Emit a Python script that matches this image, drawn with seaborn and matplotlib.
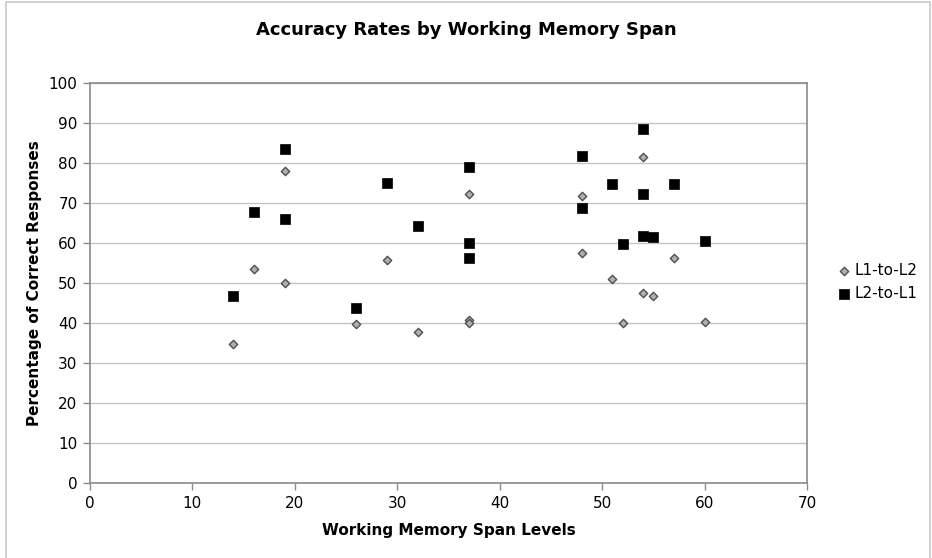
"""
Accuracy rates by working memory span: scatter of two translation directions.
"""

import matplotlib
matplotlib.use("Agg")
import pandas as pd
import matplotlib.pyplot as plt
from matplotlib.patches import Rectangle
import seaborn as sns

# --- DATA ---
L1_SPAN = [14, 16, 19, 19, 26, 29, 32, 37, 37, 37, 48, 48, 51, 52, 54, 54, 55, 57, 60]
L1_ACC = [34.7, 53.5, 77.9, 50.0, 39.8, 55.7, 37.7, 72.2, 40.7, 40.0,
          71.7, 57.4, 50.9, 39.9, 81.6, 47.5, 46.8, 56.2, 40.2]

L2_SPAN = [14, 16, 19, 19, 26, 29, 32, 37, 37, 37, 48, 48, 51, 52, 54, 54, 54, 55, 57, 60]
L2_ACC = [46.8, 67.7, 83.5, 66.1, 43.7, 75.1, 64.3, 79.1, 60.0, 56.3,
          81.7, 68.8, 74.7, 59.7, 88.5, 72.2, 61.8, 61.5, 74.7, 60.5]

SERIES = ["L1-to-L2", "L2-to-L1"]
TITLE = "Accuracy Rates by Working Memory Span"
XLABEL = "Working Memory Span Levels"
YLABEL = "Percentage of Correct Responses"
OUT_PNG = "out.png"


def main():
    sns.set_theme(style="white")
    plt.rcParams["font.family"] = ["DejaVu Sans"]
    plt.rcParams["text.color"] = "black"
    plt.rcParams["axes.labelcolor"] = "black"

    df1 = pd.DataFrame({"span": L1_SPAN, "acc": L1_ACC})
    df2 = pd.DataFrame({"span": L2_SPAN, "acc": L2_ACC})

    fig = plt.figure(figsize=(9.32, 5.58), dpi=100)
    W, H = 932, 558
    # plot area in pixels: left 90, right 807, top 83, bottom 483
    ax = fig.add_axes([90 / W, 1 - 483 / H, (807 - 90) / W, (483 - 83) / H])

    # outer chart border
    fig.patches.append(Rectangle((6 / W, -0.02), (930 - 6) / W, 1.0 - 1.5 / H + 0.02,
                                 transform=fig.transFigure, fill=False,
                                 edgecolor="#c8c8c8", linewidth=1.2))

    sns.scatterplot(data=df1, x="span", y="acc", marker="D", s=18,
                    color="#b0b0b0", edgecolor="#505050", linewidth=1.0,
                    label=SERIES[0], ax=ax, zorder=3)
    sns.scatterplot(data=df2, x="span", y="acc", marker="s", s=48,
                    color="black", edgecolor="black", linewidth=0.5,
                    label=SERIES[1], ax=ax, zorder=4)

    ax.set_xlim(0, 70)
    ax.set_ylim(0, 100)
    ax.set_xticks(range(0, 71, 10))
    ax.set_yticks(range(0, 101, 10))
    ax.yaxis.grid(True, color="#c4c4c4", linewidth=1.0)
    ax.xaxis.grid(False)
    ax.set_axisbelow(True)
    for sp in ax.spines.values():
        sp.set_visible(True)
        sp.set_color("#8a8a8a")
        sp.set_linewidth(1.2)
    ax.tick_params(axis="both", direction="out", length=5, width=1.0,
                   color="#8a8a8a", labelsize=11, labelcolor="black",
                   bottom=True, left=True, pad=4)

    ax.set_xlabel(XLABEL, fontsize=11, weight="bold", labelpad=9)
    ax.set_ylabel(YLABEL, fontsize=11, weight="bold", labelpad=5)
    fig.text(0.5, 1 - 30 / H, TITLE, ha="center", va="center",
             fontsize=13, weight="bold")

    ax.legend(loc="center left", bbox_to_anchor=(830 / W, 1 - 282 / H),
              bbox_transform=fig.transFigure, frameon=False, fontsize=11,
              handletextpad=0.2, labelspacing=0.5, borderaxespad=0,
              handlelength=1.0)

    fig.savefig(OUT_PNG, dpi=100)


if __name__ == "__main__":
    main()
